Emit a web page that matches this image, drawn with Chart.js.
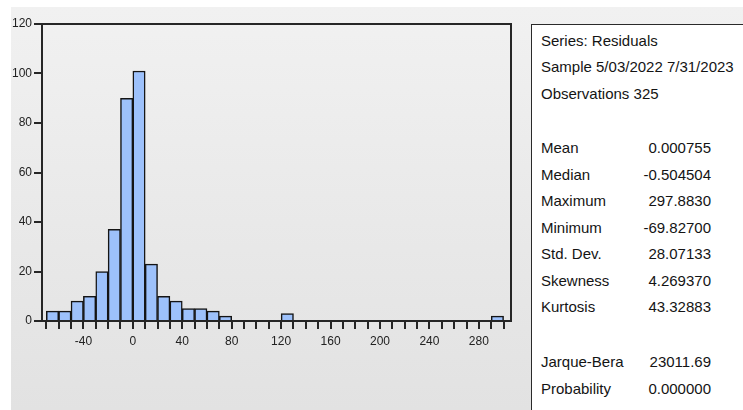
<!DOCTYPE html>
<html>
<head>
<meta charset="utf-8">
<script src="https://cdn.jsdelivr.net/npm/chart.js@4/dist/chart.umd.min.js"></script>
<style>
  html, body { margin: 0; padding: 0; background: #ffffff; }
  #wrap { position: relative; width: 743px; height: 410px; overflow: hidden; }
  #panel { position: absolute; left: 11px; top: 7px; right: 0; bottom: 0;
           background: linear-gradient(#f1f1f1, #e2e2e2); }
  #c { position: absolute; left: 0; top: 0; }
  #stats { position: absolute; left: 531px; top: 24px; width: 240px; height: 420px;
           background: #ffffff; border: 1px solid #2a2a2a;
           font: 15px "Liberation Sans", Arial, sans-serif; color: #141414; }
  .line { position: absolute; left: 9px; height: 20px; line-height: 20px; white-space: nowrap; }
  .val { position: absolute; left: 0; width: 170px; text-align: right; }
</style>
</head>
<body>
<div id="wrap">
  <div id="panel"></div>
  <canvas id="c" width="743" height="410"></canvas>
  <div id="stats"></div>
</div>
<script>
// Histogram of residuals: lower edge of each 10-wide bin and its count
const binStart = [-70, -60, -50, -40, -30, -20, -10, 0, 10, 20, 30, 40, 50, 60, 70,
                  80, 90, 100, 110, 120, 130, 140, 150, 160, 170, 180, 190, 200,
                  210, 220, 230, 240, 250, 260, 270, 280, 290];
const counts = [4, 4, 8, 10, 20, 37, 90, 101, 23, 10, 8, 5, 5, 4, 2,
                0, 0, 0, 0, 3, 0, 0, 0, 0, 0, 0, 0, 0,
                0, 0, 0, 0, 0, 0, 0, 0, 2];
const binWidth = 10;

// Axis tick labels
const yTickLabels = [0, 20, 40, 60, 80, 100, 120];
const xTickLabels = [-40, 0, 40, 80, 120, 160, 200, 240, 280];

// Descriptive statistics panel
const headerLines = ['Series: Residuals', 'Sample 5/03/2022 7/31/2023', 'Observations 325'];
const statNames = ['Mean', 'Median', 'Maximum', 'Minimum', 'Std. Dev.', 'Skewness', 'Kurtosis'];
const statValues = ['0.000755', '-0.504504', '297.8830', '-69.82700', '28.07133', '4.269370', '43.32883'];
const testNames = ['Jarque-Bera', 'Probability'];
const testValues = ['23011.69', '0.000000'];

// --- statistics box ---
const stats = document.getElementById('stats');
const boxTop = 25;
function addLine(centerY, label, value) {
  const d = document.createElement('div');
  d.className = 'line';
  d.style.top = (centerY - boxTop - 10) + 'px';
  d.textContent = label;
  if (value !== undefined) {
    const v = document.createElement('span');
    v.className = 'val';
    v.textContent = value;
    d.appendChild(v);
  }
  stats.appendChild(d);
}
const headerY = [40.5, 67, 94];
headerLines.forEach((t, i) => addLine(headerY[i], t));
const statY = [148, 174.5, 201, 227.5, 254, 281, 307];
statNames.forEach((t, i) => addLine(statY[i], t, statValues[i]));
const testY = [362, 389];
testNames.forEach((t, i) => addLine(testY[i], t, testValues[i]));

// --- histogram ---
const points = binStart.map((b, i) => ({ x: b + binWidth / 2, y: counts[i] }));
const inkColor = '#262626';

const framePlugin = {
  id: 'frame',
  afterDatasetsDraw(chart) {
    const a = chart.chartArea;
    const ctx = chart.ctx;
    ctx.save();
    ctx.strokeStyle = inkColor;
    ctx.lineWidth = 2;
    ctx.strokeRect(a.left, a.top, a.right - a.left, a.bottom - a.top);
    ctx.restore();
  }
};

new Chart(document.getElementById('c'), {
  type: 'bar',
  data: {
    datasets: [{
      data: points,
      backgroundColor: '#9dc1fb',
      borderColor: '#141414',
      borderWidth: 1.5,
      barPercentage: 1,
      categoryPercentage: 1,
      grouped: false
    }]
  },
  options: {
    responsive: false,
    animation: false,
    devicePixelRatio: 1,
    layout: { padding: { left: 0, top: 24, right: 232, bottom: 0 } },
    plugins: { legend: { display: false }, tooltip: { enabled: false } },
    scales: {
      x: {
        type: 'linear',
        min: -73.5,
        max: 306,
        offset: false,
        grid: { offset: false, drawOnChartArea: false, drawTicks: true, tickLength: 8,
                color: inkColor, lineWidth: 2 },
        border: { display: false },
        afterFit(scale) { scale.height = 89; },
        ticks: {
          stepSize: 10,
          includeBounds: false,
          autoSkip: false,
          maxRotation: 0,
          padding: 5,
          color: '#222222',
          font: { family: '"Liberation Sans", Arial, sans-serif', size: 12 },
          callback(v) {
            const r = Math.round(v);
            return xTickLabels.includes(r) ? String(r) : '';
          }
        }
      },
      y: {
        min: 0,
        max: 120,
        grid: { drawOnChartArea: false, drawTicks: true, tickLength: 8,
                color: inkColor, lineWidth: 2 },
        border: { display: false },
        afterFit(scale) { scale.width = 42; },
        ticks: {
          stepSize: 20,
          padding: 2,
          color: '#222222',
          font: { family: '"Liberation Sans", Arial, sans-serif', size: 12 },
          callback(v) { return yTickLabels.includes(v) ? String(v) : ''; }
        }
      }
    }
  },
  plugins: [framePlugin]
});
</script>
</body>
</html>
